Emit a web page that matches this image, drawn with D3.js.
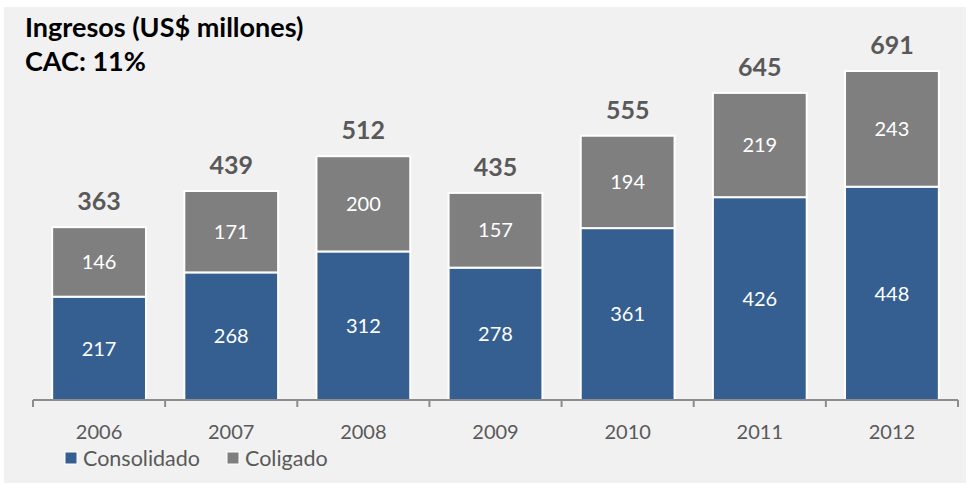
<!DOCTYPE html>
<html>
<head>
<meta charset="utf-8">
<script src="https://cdn.jsdelivr.net/npm/d3@7"></script>
<style>
  body { margin: 0; background: #fff; }
  svg { display: block; }
  text { font-family: Lato, "Open Sans", sans-serif; }
</style>
</head>
<body>
<svg id="chart" width="970" height="485"></svg>
<script>
// chart data
const years = ["2006", "2007", "2008", "2009", "2010", "2011", "2012"];
const consolidado = [217, 268, 312, 278, 361, 426, 448];
const coligado = [146, 171, 200, 157, 194, 219, 243];
const totals = [363, 439, 512, 435, 555, 645, 691];
const seriesNames = ["Consolidado", "Coligado"];
const seriesColors = ["#365f91", "#7f7f7f"];

const svg = d3.select("#chart");

// background panel
svg.append("rect")
  .attr("x", 4).attr("y", 7)
  .attr("width", 962).attr("height", 476)
  .attr("fill", "#f1f1f1");

const x = d3.scaleBand()
  .domain(years)
  .range([33, 958])
  .paddingInner(0.29)
  .paddingOuter(0.145);

const y = d3.scaleLinear()
  .domain([0, 691])
  .range([400, 71]);

const rows = years.map((yr, i) => ({year: yr, Consolidado: consolidado[i], Coligado: coligado[i], total: totals[i]}));
const stacked = d3.stack().keys(seriesNames)(rows);

const g = svg.append("g");

stacked.forEach((layer, li) => {
  const grp = g.append("g");
  grp.selectAll("rect")
    .data(layer)
    .enter()
    .append("rect")
    .attr("x", d => x(d.data.year))
    .attr("y", d => y(d[1]))
    .attr("width", x.bandwidth())
    .attr("height", d => y(d[0]) - y(d[1]))
    .attr("fill", seriesColors[li])
    .attr("stroke", "#ffffff")
    .attr("stroke-width", 2);

  grp.selectAll("text")
    .data(layer)
    .enter()
    .append("text")
    .attr("x", d => x(d.data.year) + x.bandwidth() / 2)
    .attr("y", d => (y(d[0]) + y(d[1])) / 2)
    .attr("dy", "0.36em")
    .attr("text-anchor", "middle")
    .attr("fill", "#ffffff")
    .attr("font-size", 20)
    .text(d => d.data[layer.key]);
});

// totals above bars
g.selectAll(".total")
  .data(rows)
  .enter()
  .append("text")
  .attr("class", "total")
  .attr("x", d => x(d.year) + x.bandwidth() / 2)
  .attr("y", d => y(d.total) - 17)
  .attr("text-anchor", "middle")
  .attr("fill", "#595959")
  .attr("font-size", 25)
  .attr("font-weight", "bold")
  .text(d => d.total);

// x axis
const axisG = svg.append("g").attr("transform", "translate(0,400)");
axisG.append("line")
  .attr("x1", 33).attr("x2", 958)
  .attr("stroke", "#8c8c8c").attr("stroke-width", 2);
const tickPos = years.map(yr => x(yr) - x.step() * x.paddingInner() / 2);
tickPos.push(958);
axisG.selectAll(".tick")
  .data(tickPos)
  .enter()
  .append("line")
  .attr("x1", d => d).attr("x2", d => d)
  .attr("y1", 0).attr("y2", 7)
  .attr("stroke", "#8c8c8c").attr("stroke-width", 2);
axisG.selectAll(".lbl")
  .data(years)
  .enter()
  .append("text")
  .attr("x", d => x(d) + x.bandwidth() / 2)
  .attr("y", 39)
  .attr("text-anchor", "middle")
  .attr("fill", "#595959")
  .attr("font-size", 20)
  .text(d => d);

// title
svg.append("text")
  .attr("x", 25).attr("y", 37)
  .attr("font-size", 27).attr("font-weight", "bold").attr("fill", "#000")
  .text("Ingresos (US$ millones)");
svg.append("text")
  .attr("x", 25).attr("y", 71)
  .attr("font-size", 27).attr("font-weight", "bold").attr("fill", "#000")
  .text("CAC: 11%");

// legend
const legendX = [65, 227];
const legend = svg.append("g");
seriesNames.forEach((name, i) => {
  legend.append("rect")
    .attr("x", legendX[i]).attr("y", 452)
    .attr("width", 12).attr("height", 12)
    .attr("fill", seriesColors[i])
    .attr("stroke", "#fff").attr("stroke-width", 1);
  legend.append("text")
    .attr("x", legendX[i] + 18).attr("y", 466)
    .attr("font-size", 21.5).attr("fill", "#595959")
    .text(name);
});
</script>
</body>
</html>
